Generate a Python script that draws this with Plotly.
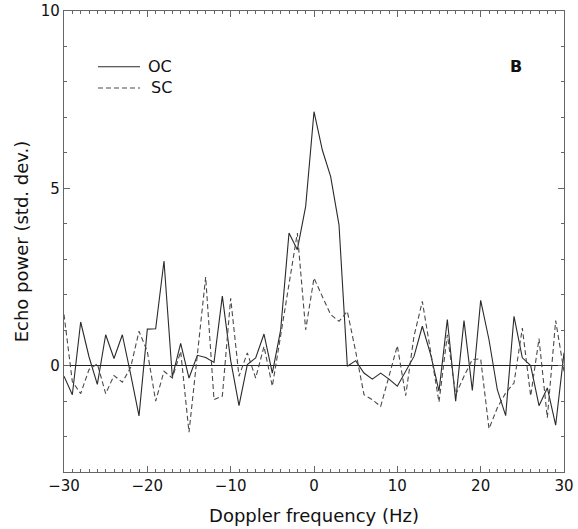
import plotly.graph_objects as go

freq = list(range(-30, 31))
oc = [-0.30, -0.82, 1.23, 0.25, -0.53, 0.87, 0.20, 0.87, -0.25, -1.42,
      1.03, 1.04, 2.95, -0.32, 0.63, -0.35, 0.29, 0.23, 0.09, 1.96,
      0.15, -1.13, 0.03, 0.22, 0.89, -0.21, 1.01, 3.74, 3.27, 4.49,
      7.16, 6.08, 5.33, 3.97, -0.02, 0.14, -0.21, -0.38, -0.21, -0.38,
      -0.58, -0.16, 0.26, 1.11, 0.31, -0.72, 1.30, -1.00, 1.27, -0.70,
      1.84, 0.73, -0.68, -1.41, 1.39, 0.22, 0.00, -1.13, -0.63, -1.68,
      0.36]
sc = [1.44, -0.45, -0.79, -0.11, 0.05, -0.79, -0.28, -0.47, -0.05, 0.97,
      0.40, -1.00, -0.16, -0.35, 0.40, -1.88, 0.30, 2.50, -0.96, -0.86,
      1.90, -0.30, 0.36, -0.35, 0.54, -0.58, 0.85, 2.30, 3.74, 1.01,
      2.47, 1.95, 1.44, 1.25, 1.53, 0.40, -0.82, -0.96, -1.15, -0.30,
      0.56, -0.85, 0.83, 1.81, 0.36, -1.03, 0.87, -0.82, -0.30, 0.17,
      0.19, -1.78, -1.19, -0.77, -0.49, 1.06, -0.86, 0.76, -1.47, 1.27,
      -0.16]
series_names = ["OC", "SC"]
x_ticks = [-30, -20, -10, 0, 10, 20, 30]
y_ticks = [0, 5, 10]

FONT = "DejaVu Sans"
OC_COLOR = "#2a2a2a"
SC_COLOR = "#4a4a4a"
SC_DASH = "5px,3px"

fig = go.Figure()
fig.add_trace(go.Scatter(x=freq, y=oc, mode="lines", name=series_names[0],
                         line=dict(color=OC_COLOR, width=1.1), showlegend=False))
fig.add_trace(go.Scatter(x=freq, y=sc, mode="lines", name=series_names[1],
                         line=dict(color=SC_COLOR, width=1.1, dash=SC_DASH), showlegend=False))

axis_common = dict(showline=True, linecolor="#666666", linewidth=1.2, mirror="ticks",
                   ticks="inside", tickcolor="#666666", showgrid=False, automargin=False,
                   tickfont=dict(family=FONT, size=15, color="#111111"))

fig.update_xaxes(range=[-30, 30], tickvals=x_ticks, ticklen=6,
                 minor=dict(dtick=1, ticks="inside", ticklen=3, tickcolor="#666666", showgrid=False),
                 zeroline=False,
                 title=dict(text="Doppler frequency (Hz)", font=dict(family=FONT, size=18, color="#111111"),
                            standoff=15),
                 **axis_common)
fig.update_yaxes(range=[-3, 10], tickvals=y_ticks, ticklen=6,
                 minor=dict(dtick=1, ticks="inside", ticklen=3, tickcolor="#666666", showgrid=False),
                 zeroline=True, zerolinecolor="#222222", zerolinewidth=1,
                 title=dict(text="Echo power (std. dev.)", font=dict(family=FONT, size=18, color="#111111"),
                            standoff=7),
                 **axis_common)

# Legend drawn in paper coordinates (key lines + labels)
fig.add_shape(type="line", xref="paper", yref="paper", x0=0.068, x1=0.152, y0=0.879, y1=0.879,
              line=dict(color=OC_COLOR, width=1.1))
fig.add_shape(type="line", xref="paper", yref="paper", x0=0.068, x1=0.152, y0=0.833, y1=0.833,
              line=dict(color=SC_COLOR, width=1.1, dash=SC_DASH))
fig.add_annotation(text=series_names[0], xref="paper", yref="paper", x=0.163, y=0.879,
                   xanchor="left", yanchor="middle", showarrow=False,
                   font=dict(family=FONT, size=16, color="#111111"))
fig.add_annotation(text=series_names[1], xref="paper", yref="paper", x=0.169, y=0.833,
                   xanchor="left", yanchor="middle", showarrow=False,
                   font=dict(family=FONT, size=16, color="#111111"))

fig.add_annotation(text="<b>B</b>", xref="paper", yref="paper", x=0.904, y=0.879,
                   xanchor="center", yanchor="middle", showarrow=False,
                   font=dict(family=FONT, size=16, color="#111111"))

fig.update_layout(
    width=578, height=529,
    margin=dict(l=64, r=14, t=11, b=57),
    paper_bgcolor="white", plot_bgcolor="white",
    showlegend=False,
)

fig.write_html("out.html", config={"displayModeBar": False},
               post_script="document.body.style.margin='0px';document.body.style.padding='0px';")
